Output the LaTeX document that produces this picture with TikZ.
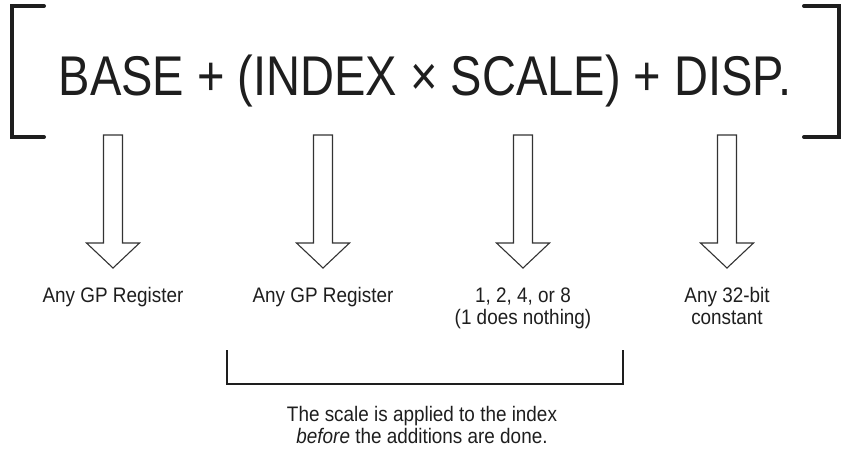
\documentclass[tikz,border=0pt]{standalone}
\usepackage{fontspec}
\setmainfont{Liberation Sans}
\newfontfamily\bigcond[FakeStretch=0.84]{Liberation Sans}
\newfontfamily\smallcond[FakeStretch=0.9]{Liberation Sans}
\definecolor{ink}{HTML}{1E1E1E}
\definecolor{thin}{HTML}{333333}
\tikzset{
  bracketline/.style={draw=ink, line width=4pt, line cap=round, line join=miter},
  smallbracket/.style={draw=ink, line width=2pt},
  hollowarrow/.style={draw=thin, line width=1.1pt, fill=white, line join=miter},
  bigtext/.style={font=\bigcond\fontsize{56}{60}\selectfont, text=ink, inner sep=0pt, anchor=base},
  labeltext/.style={font=\smallcond\fontsize{21}{22}\selectfont, text=ink, inner sep=0pt, align=center, anchor=base},
}
\newcommand{\hollowdown}[1]{%
  \draw[hollowarrow] (#1-9.5,135) -- (#1+9.5,135) -- (#1+9.5,243) -- (#1+26.5,243)
    -- (#1,268) -- (#1-26.5,243) -- (#1-9.5,243) -- cycle;}
\begin{document}
\begin{tikzpicture}[x=1pt,y=-1pt]
\useasboundingbox (0,0) rectangle (847,448);
% brackets
\draw[bracketline] (44,6) -- (12,6) -- (12,137) -- (44,137);
\draw[bracketline] (804,6) -- (839,6) -- (839,137) -- (804,137);
% formula
\node[bigtext] (formula) at (425,95) {BASE + (INDEX × SCALE) + DISP.};
% arrows
\hollowdown{113}
\hollowdown{323}
\hollowdown{523}
\hollowdown{727}
% labels (multi-line nodes are placed by the baseline of their last line)
\node[labeltext] (l1) at (113,302.7) {Any GP Register};
\node[labeltext] (l2) at (323,302.7) {Any GP Register};
\node[labeltext] (l3) at (523,324.7) {1, 2, 4, or 8\\(1 does nothing)};
\node[labeltext] (l4) at (727,324.7) {Any 32-bit\\constant};
% bottom bracket
\draw[smallbracket] (227,350) -- (227,384) -- (623,384) -- (623,350);
\node[labeltext] (note) at (422,443) {The scale is applied to the index\\\textit{before} the additions are done.};
\end{tikzpicture}
\end{document}
